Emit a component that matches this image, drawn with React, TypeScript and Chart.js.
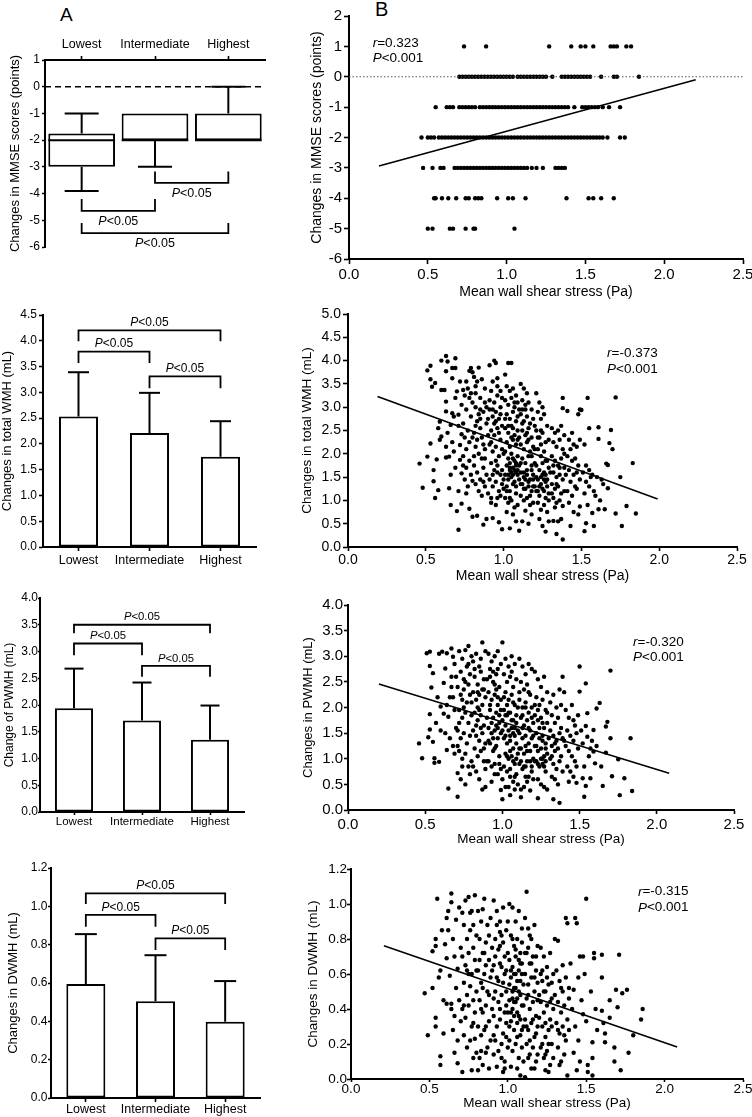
import React, { useEffect, useRef } from "react";
import { Chart, registerables } from "chart.js";
Chart.register(...registerables);

const FONT = '"Liberation Sans", Arial, Helvetica, sans-serif';
Chart.defaults.font.family = FONT;
Chart.defaults.color = "#000";

// ---------- Panel A data ----------
const groups = ["Lowest", "Intermediate", "Highest"];

// MMSE box plot (min, Q1, median, Q3, max)
const mmseMin = [-3.9, -3.0, -2.0];
const mmseQ1 = [-3.0, -2.0, -2.0];
const mmseMedian = [-2.0, -2.0, -2.0];
const mmseQ3 = [-1.75, -1.0, -1.0];
const mmseMax = [-1.0, -1.0, 0.0];
// brackets: [from group, to group, bracket level, leg end]
const mmseBrackets = [
  [1, 2, -3.6, -3.17],
  [0, 1, -4.65, -4.2],
  [0, 2, -5.48, -5.1],
];

const wmhMean = [2.53, 2.21, 1.75];
const wmhSD = [0.86, 0.78, 0.69];
const wmhBrackets = [
  [0, 2, 4.2, 3.99],
  [0, 1, 3.79, 3.57],
  [1, 2, 3.31, 3.08],
];

const pwmhMean = [1.94, 1.71, 1.35];
const pwmhSD = [0.74, 0.71, 0.64];
const pwmhBrackets = [
  [0, 2, 3.5, 3.34],
  [0, 1, 3.15, 2.93],
  [1, 2, 2.73, 2.53],
];

const dwmhMean = [0.595, 0.505, 0.398];
const dwmhSD = [0.26, 0.24, 0.212];
const dwmhBrackets = [
  [0, 2, 1.068, 1.012],
  [0, 1, 0.955, 0.894],
  [1, 2, 0.833, 0.772],
];

// ---------- Panel B data ----------
const mmseLevels = [1, 0, -1, -2, -3, -4, -5];
const mmseRowP1 = [0.73, 0.87, 1.27, 1.41, 1.47, 1.5, 1.55, 1.66, 1.68, 1.7, 1.76, 1.79];
const mmseRow0 = [0.7, 0.72, 0.74, 0.76, 0.78, 0.8, 0.82, 0.84, 0.86, 0.88, 0.9, 0.92, 0.94, 0.96, 0.98, 1.0, 1.02, 1.04, 1.07, 1.09, 1.11, 1.13, 1.15, 1.17, 1.19, 1.21, 1.23, 1.25, 1.29, 1.35, 1.37, 1.39, 1.41, 1.43, 1.45, 1.47, 1.49, 1.51, 1.53, 1.6, 1.68, 1.7, 1.84];
const mmseRowM1 = [0.55, 0.62, 0.64, 0.66, 0.7, 0.72, 0.74, 0.76, 0.78, 0.8, 0.83, 0.85, 0.87, 0.89, 0.91, 0.93, 0.95, 0.97, 0.99, 1.01, 1.03, 1.05, 1.07, 1.09, 1.11, 1.13, 1.15, 1.17, 1.19, 1.21, 1.23, 1.25, 1.27, 1.29, 1.31, 1.33, 1.35, 1.37, 1.39, 1.43, 1.48, 1.5, 1.52, 1.54, 1.56, 1.58, 1.61, 1.65, 1.72];
const mmseRowM2 = [0.46, 0.5, 0.52, 0.54, 0.57, 0.59, 0.61, 0.63, 0.65, 0.67, 0.69, 0.71, 0.73, 0.75, 0.77, 0.79, 0.81, 0.83, 0.85, 0.87, 0.89, 0.91, 0.93, 0.95, 0.97, 0.99, 1.01, 1.03, 1.05, 1.07, 1.09, 1.11, 1.13, 1.15, 1.17, 1.19, 1.21, 1.23, 1.25, 1.27, 1.29, 1.31, 1.33, 1.35, 1.37, 1.39, 1.41, 1.43, 1.45, 1.47, 1.49, 1.51, 1.53, 1.55, 1.57, 1.59, 1.61, 1.64, 1.72, 1.75];
const mmseRowM3 = [0.47, 0.53, 0.58, 0.6, 0.67, 0.69, 0.71, 0.73, 0.75, 0.77, 0.79, 0.81, 0.83, 0.85, 0.87, 0.89, 0.91, 0.93, 0.95, 0.97, 0.99, 1.01, 1.03, 1.05, 1.07, 1.09, 1.11, 1.13, 1.16, 1.19, 1.23, 1.31, 1.33, 1.35, 1.37];
const mmseRowM4 = [0.54, 0.55, 0.59, 0.63, 0.68, 0.74, 0.76, 0.8, 0.82, 0.84, 0.94, 1.01, 1.04, 1.12, 1.38, 1.52, 1.55, 1.6, 1.68];
const mmseRowM5 = [0.5, 0.53, 0.64, 0.66, 0.74, 0.79, 0.8, 1.05];
const mmseRows = [mmseRowP1, mmseRow0, mmseRowM1, mmseRowM2, mmseRowM3, mmseRowM4, mmseRowM5];
const mmseFit = [[0.19, -2.94], [2.2, -0.1]];

const wmhPoints = [
  [0.46,1.79],[0.48,1.27],[0.51,3.79],[0.53,3.89],[0.53,3.6],[0.54,3.44],[0.56,3.52],[0.51,1.94],[0.53,2.22],[0.55,1.65],[0.55,1.41],[0.56,1.05],[0.58,1.22],[0.59,2.69],[0.6,3.37],[0.6,2.37],[0.59,2.3],[0.58,2.55],[0.57,1.88],
  [0.62,3.37],[0.6,4.0],[0.63,4.1],[0.64,3.98],[0.63,3.77],[0.63,3.12],[0.63,2.91],[0.63,1.92],[0.63,2.15],[0.65,1.94],[0.65,1.26],[0.66,0.9],[0.67,2.87],[0.69,4.05],[0.67,3.62],[0.67,3.84],[0.69,3.84],[0.66,2.62],[0.68,2.8],[0.69,3.2],[0.64,2.45],[0.67,2.25],[0.66,1.55],[0.69,1.7],[0.68,2.05],
  [0.7,3.34],[0.71,2.84],[0.7,0.77],[0.71,0.37],[0.72,2.19],[0.72,1.87],[0.73,1.58],[0.73,0.93],[0.74,3.37],[0.72,3.55],[0.73,3.05],[0.75,3.25],[0.74,2.65],[0.76,2.95],[0.77,3.4],[0.78,3.78],[0.79,3.84],[0.8,3.75],[0.77,2.5],[0.75,2.35],[0.76,2.1],[0.78,2.25],[0.74,1.95],[0.76,1.7],[0.78,1.85],[0.75,1.45],[0.77,1.3],[0.79,1.55],[0.8,1.42],[0.76,1.15],[0.78,0.82],[0.8,0.65],[0.79,2.8],[0.8,3.1],[0.71,1.2],[0.73,2.42],[0.71,2.6],[0.74,1.75],
  [0.81,3.65],[0.82,3.3],[0.83,3.55],[0.84,3.85],[0.82,3.0],[0.84,2.85],[0.85,3.2],[0.83,2.7],[0.81,2.45],[0.85,2.55],[0.86,2.35],[0.82,2.15],[0.84,2.0],[0.86,1.9],[0.81,1.75],[0.83,1.6],[0.85,1.45],[0.87,1.7],[0.82,1.35],[0.84,1.2],[0.86,1.1],[0.88,1.3],[0.83,0.67],[0.87,0.48],[0.89,0.6],[0.88,3.4],[0.87,2.9],[0.89,2.65],[0.88,2.1],[0.89,1.55],[0.9,2.4],[0.86,3.6],[0.89,3.0],[0.88,1.9],[0.81,1.95],
  [0.91,3.9],[0.94,4.0],[0.95,3.95],[0.93,3.55],[0.96,3.62],[0.92,3.35],[0.94,3.1],[0.96,3.25],[0.98,3.0],[0.91,2.95],[0.93,2.8],[0.95,2.9],[0.97,2.75],[0.99,2.6],[0.92,2.5],[0.94,2.4],[0.96,2.55],[0.98,2.3],[0.91,2.2],[0.93,2.05],[0.95,2.15],[0.97,1.95],[0.99,2.1],[0.92,1.8],[0.94,1.65],[0.96,1.75],[0.98,1.55],[0.91,1.45],[0.93,1.3],[0.95,1.4],[0.97,1.2],[0.99,1.35],[0.92,1.05],[0.95,0.9],[0.98,1.1],[0.93,0.62],[0.97,0.53],[0.99,0.38],[0.96,3.45],[0.98,2.85],[0.94,2.65],[1.0,2.0],[0.95,1.85],[0.99,1.65],
  [1.01,3.7],[1.03,3.95],[1.05,3.95],[1.02,3.45],[1.04,3.35],[1.06,3.4],[1.08,3.25],[1.01,3.15],[1.03,3.05],[1.05,3.2],[1.07,3.0],[1.09,3.1],[1.02,2.85],[1.04,2.75],[1.06,2.9],[1.08,2.7],[1.01,2.55],[1.03,2.45],[1.05,2.6],[1.07,2.4],[1.09,2.5],[1.02,2.25],[1.04,2.15],[1.06,2.3],[1.08,2.2],[1.1,2.35],[1.01,2.05],[1.03,1.9],[1.05,2.0],[1.07,1.85],[1.09,1.95],[1.02,1.75],[1.04,1.65],[1.06,1.7],[1.08,1.6],[1.1,1.75],[1.01,1.55],[1.03,1.45],[1.05,1.5],[1.07,1.4],[1.09,1.55],[1.02,1.3],[1.04,1.2],[1.06,1.35],[1.08,1.15],[1.01,1.05],[1.03,0.95],[1.05,1.0],[1.07,0.85],[1.09,0.9],[1.02,0.75],[1.06,0.7],[1.04,0.4],[1.08,0.55],[1.1,0.35],[1.06,2.55],[1.04,1.8],[1.08,1.3],[1.09,2.8],
  [1.11,3.5],[1.13,3.4],[1.15,3.3],[1.12,3.15],[1.14,3.05],[1.16,3.1],[1.18,2.95],[1.11,2.85],[1.13,2.7],[1.15,2.8],[1.17,2.65],[1.19,2.75],[1.12,2.5],[1.14,2.4],[1.16,2.55],[1.18,2.35],[1.11,2.2],[1.13,2.1],[1.15,2.25],[1.17,2.05],[1.19,2.15],[1.12,1.9],[1.14,1.8],[1.16,1.95],[1.18,1.75],[1.11,1.6],[1.13,1.5],[1.15,1.65],[1.17,1.45],[1.19,1.55],[1.12,1.35],[1.14,1.25],[1.16,1.4],[1.18,1.2],[1.11,1.1],[1.13,1.0],[1.15,1.05],[1.17,0.9],[1.19,0.95],[1.14,0.78],[1.12,0.55],[1.16,0.5],[1.18,0.7],[1.2,1.3],[1.2,1.8],
  [1.21,3.3],[1.23,3.1],[1.25,3.0],[1.22,2.9],[1.24,2.75],[1.26,2.85],[1.28,2.6],[1.21,2.5],[1.23,2.35],[1.25,2.45],[1.27,2.25],[1.29,2.3],[1.22,2.1],[1.24,1.95],[1.26,2.05],[1.28,1.85],[1.21,1.75],[1.23,1.65],[1.25,1.8],[1.27,1.55],[1.29,1.7],[1.22,1.45],[1.24,1.35],[1.26,1.45],[1.28,1.3],[1.21,1.2],[1.23,1.1],[1.25,1.25],[1.27,1.05],[1.29,1.15],[1.22,0.95],[1.24,0.8],[1.26,0.9],[1.28,0.75],[1.23,0.6],[1.25,0.45],[1.27,0.33],[1.29,0.55],[1.26,1.6],
  [1.31,2.55],[1.33,2.45],[1.35,2.5],[1.37,2.6],[1.39,2.4],[1.32,2.25],[1.34,2.15],[1.36,2.3],[1.38,2.1],[1.31,1.95],[1.33,1.85],[1.35,1.75],[1.37,1.9],[1.39,1.7],[1.32,1.6],[1.34,1.5],[1.36,1.55],[1.38,1.45],[1.31,1.35],[1.33,1.25],[1.35,1.3],[1.37,1.15],[1.39,1.2],[1.32,1.05],[1.34,0.95],[1.36,1.0],[1.38,0.88],[1.33,0.85],[1.35,0.55],[1.37,0.6],[1.38,3.2],[1.38,2.98],[1.34,0.28],[1.38,0.16],[1.32,0.56],[1.39,2.0],
  [1.41,2.92],[1.44,2.45],[1.42,2.3],[1.45,2.2],[1.43,2.1],[1.47,2.15],[1.41,1.95],[1.44,1.85],[1.46,1.9],[1.48,1.75],[1.42,1.65],[1.45,1.55],[1.47,1.6],[1.43,1.4],[1.46,1.3],[1.49,1.45],[1.41,1.2],[1.44,1.1],[1.47,1.25],[1.42,0.95],[1.45,0.75],[1.48,0.7],[1.43,0.45],[1.49,0.87],[1.49,2.3],[1.48,2.85],[1.49,2.95],[1.4,1.55],
  [1.5,2.94],[1.54,3.2],[1.52,2.2],[1.53,1.75],[1.55,2.55],[1.53,1.4],[1.55,1.65],[1.51,1.6],[1.57,1.55],[1.58,1.2],[1.56,1.5],[1.52,1.15],[1.54,0.9],[1.57,0.73],[1.53,0.51],[1.52,0.34],[1.55,1.3],[1.6,1.5],[1.61,2.57],[1.61,2.32],[1.61,0.81],[1.64,1.35],[1.63,1.45],[1.65,0.81],[1.66,1.79],[1.67,1.76],[1.67,1.26],[1.68,2.23],[1.69,2.51],[1.7,2.1],[1.72,3.21],[1.72,0.72],[1.75,1.5],[1.76,0.45],[1.79,0.88],[1.83,1.8],[1.85,0.72],[1.59,1.1],[1.62,1.0],[1.58,0.45],
  [0.76,3.55],[0.79,3.3],[0.82,2.6],[0.85,2.75],[0.87,2.2],[0.9,2.75],[0.92,2.25],[0.93,1.55],[0.96,1.05],[0.97,2.45],[0.99,3.2],[1.0,1.45],[1.01,2.75],[1.02,1.2],[1.03,2.6],[1.04,1.05],[1.05,2.35],[1.06,1.9],[1.07,3.1],[1.08,1.75],[1.09,2.3],[1.1,1.45],[1.1,2.95],[1.11,1.8],[1.12,2.65],[1.13,1.25],[1.14,2.95],[1.15,1.55],[1.16,2.3],[1.17,1.1],[1.18,1.95],[1.19,1.3],[1.2,2.6],[1.21,1.5],[1.22,2.35],[1.23,1.3],[1.24,2.2],[1.25,1.55],[1.26,1.2],[1.27,1.85],[1.28,1.45],[1.29,1.0],[1.3,1.6],[1.31,1.15],[1.32,1.75],[1.34,1.35],[1.36,1.7],[1.04,1.7],[1.06,1.55],[1.07,1.65],[1.08,1.8],[1.05,1.6],[1.09,1.65],[1.03,1.55],[0.95,2.7],[0.93,2.95],[0.91,3.15],[0.98,3.35],[0.88,3.1],[0.85,2.95],[0.82,3.45],[0.78,3.2],[0.8,2.35],[0.83,2.3],[0.87,1.4],[0.9,1.15],[0.92,0.95],[0.96,1.6],[1.0,1.25],[1.13,1.6],[1.16,1.3],[1.19,1.45],[1.22,1.2],[1.24,1.5],[1.27,1.4],[1.18,1.65],[1.14,1.45],[1.11,1.35],[1.24,2.5],[1.2,2.1],[1.15,2.45],[1.12,2.95],
];
const wmhFit = [[0.19, 3.23], [1.99, 1.03]];

const pwmhPoints = [
  [0.46,1.3],[0.48,1.01],[0.51,3.06],[0.53,3.09],[0.53,2.81],[0.55,2.67],[0.54,2.39],[0.53,1.87],[0.53,1.57],[0.56,1.01],[0.56,0.92],[0.59,0.94],[0.55,1.33],[0.52,1.42],[0.6,2.02],[0.6,1.55],[0.58,2.2],[0.57,1.7],[0.59,3.05],
  [0.61,3.09],[0.64,3.06],[0.63,2.76],[0.62,2.48],[0.65,1.82],[0.64,1.17],[0.65,0.42],[0.67,3.15],[0.68,2.99],[0.63,1.5],[0.62,1.88],[0.66,2.2],[0.67,2.6],[0.69,2.85],[0.66,1.4],[0.68,1.25],[0.69,1.95],[0.64,2.05],[0.67,2.4],[0.7,1.6],[0.69,1.1],
  [0.71,0.26],[0.71,0.72],[0.72,3.1],[0.74,2.95],[0.76,3.12],[0.78,3.2],[0.73,2.7],[0.75,2.55],[0.77,2.8],[0.79,2.65],[0.71,2.4],[0.73,2.25],[0.75,2.35],[0.77,2.1],[0.79,2.25],[0.72,1.95],[0.74,1.8],[0.76,1.9],[0.78,1.7],[0.8,1.85],[0.71,1.55],[0.73,1.4],[0.75,1.5],[0.77,1.3],[0.79,1.45],[0.72,1.15],[0.74,1.0],[0.76,1.1],[0.78,0.85],[0.8,0.95],[0.73,0.6],[0.76,0.5],[0.79,0.7],[0.75,2.0],[0.78,2.45],[0.8,3.0],[0.71,1.25],[0.74,0.85],
  [0.81,2.9],[0.83,3.05],[0.85,2.8],[0.87,3.27],[0.89,3.1],[0.82,2.6],[0.84,2.45],[0.86,2.7],[0.88,2.55],[0.81,2.3],[0.83,2.15],[0.85,2.25],[0.87,2.05],[0.89,2.2],[0.82,1.9],[0.84,1.75],[0.86,1.85],[0.88,1.65],[0.81,1.55],[0.83,1.45],[0.85,1.35],[0.87,1.5],[0.89,1.3],[0.82,1.2],[0.84,1.05],[0.86,1.15],[0.88,0.95],[0.81,0.85],[0.83,0.75],[0.85,0.6],[0.87,0.4],[0.89,0.45],[0.86,2.95],[0.88,2.35],[0.9,1.8],[0.84,2.0],[0.89,0.8],
  [0.91,3.05],[0.93,2.9],[0.95,3.0],[0.97,2.75],[0.99,2.85],[0.92,2.6],[0.94,2.5],[0.96,2.65],[0.98,2.4],[0.91,2.3],[0.93,2.15],[0.95,2.25],[0.97,2.05],[0.99,2.15],[0.92,1.95],[0.94,1.8],[0.96,1.9],[0.98,1.7],[0.91,1.6],[0.93,1.5],[0.95,1.55],[0.97,1.4],[0.99,1.5],[0.92,1.3],[0.94,1.15],[0.96,1.25],[0.98,1.05],[0.91,0.95],[0.93,0.85],[0.95,0.9],[0.97,0.7],[0.99,0.8],[0.93,0.55],[0.99,0.39],[0.96,2.35],[0.98,1.85],[0.94,1.4],[0.97,3.1],[0.92,2.75],
  [1.0,3.27],[1.02,2.95],[1.04,2.8],[1.06,3.0],[1.08,2.85],[1.01,2.65],[1.03,2.5],[1.05,2.6],[1.07,2.4],[1.09,2.55],[1.02,2.3],[1.04,2.15],[1.06,2.25],[1.08,2.05],[1.01,1.95],[1.03,1.85],[1.05,1.9],[1.07,1.75],[1.09,1.85],[1.02,1.65],[1.04,1.55],[1.06,1.6],[1.08,1.45],[1.01,1.4],[1.03,1.3],[1.05,1.35],[1.07,1.2],[1.09,1.3],[1.02,1.1],[1.04,1.0],[1.06,1.05],[1.08,0.9],[1.01,0.85],[1.03,0.75],[1.05,0.65],[1.07,0.55],[1.09,0.7],[1.0,0.21],[1.05,0.29],[1.04,0.45],[1.08,0.4],[1.06,2.7],[1.1,2.0],[1.03,2.05],[1.07,1.5],[1.1,1.1],
  [1.11,2.95],[1.13,2.8],[1.15,2.65],[1.17,2.85],[1.19,2.75],[1.12,2.5],[1.14,2.35],[1.16,2.45],[1.18,2.25],[1.11,2.15],[1.13,2.0],[1.15,2.1],[1.17,1.9],[1.19,2.0],[1.12,1.8],[1.14,1.65],[1.16,1.75],[1.18,1.55],[1.11,1.5],[1.13,1.4],[1.15,1.45],[1.17,1.3],[1.19,1.4],[1.12,1.2],[1.14,1.1],[1.16,1.15],[1.18,0.95],[1.11,0.9],[1.13,0.8],[1.15,0.85],[1.17,0.65],[1.19,0.75],[1.12,0.25],[1.14,0.45],[1.16,0.55],[1.18,0.38],[1.2,1.0],[1.2,1.7],
  [1.21,2.7],[1.23,2.55],[1.25,2.4],[1.27,2.6],[1.29,2.3],[1.22,2.2],[1.24,2.05],[1.26,2.15],[1.28,1.95],[1.21,1.85],[1.23,1.75],[1.25,1.8],[1.27,1.6],[1.29,1.7],[1.22,1.5],[1.24,1.4],[1.26,1.45],[1.28,1.3],[1.21,1.25],[1.23,1.15],[1.25,1.2],[1.27,1.05],[1.29,1.1],[1.22,0.95],[1.24,0.85],[1.26,0.9],[1.28,0.75],[1.23,0.6],[1.25,0.5],[1.27,0.45],[1.23,0.23],[1.29,0.4],[1.26,1.0],[1.28,0.95],
  [1.31,2.1],[1.33,2.25],[1.35,2.0],[1.37,2.35],[1.39,2.6],[1.32,1.85],[1.34,1.7],[1.36,1.8],[1.38,1.6],[1.31,1.55],[1.33,1.45],[1.35,1.35],[1.37,1.5],[1.39,1.4],[1.32,1.25],[1.34,1.15],[1.36,1.2],[1.38,1.05],[1.31,1.0],[1.33,0.9],[1.35,0.8],[1.37,0.95],[1.39,0.75],[1.32,0.65],[1.34,0.6],[1.36,0.5],[1.33,0.21],[1.37,0.14],[1.38,2.05],[1.4,2.3],
  [1.41,1.95],[1.43,1.8],[1.45,2.05],[1.47,1.65],[1.42,1.55],[1.44,1.45],[1.46,1.35],[1.48,1.5],[1.41,1.25],[1.43,1.15],[1.45,1.05],[1.47,0.95],[1.49,1.2],[1.42,0.85],[1.44,0.75],[1.46,0.65],[1.48,0.85],[1.43,0.55],[1.48,0.53],[1.5,2.8],[1.5,2.31],[1.49,1.85],[1.46,1.75],[1.4,1.35],
  [1.54,2.47],[1.7,2.72],[1.63,2.09],[1.68,1.72],[1.67,1.63],[1.7,1.4],[1.83,1.4],[1.61,1.98],[1.59,1.56],[1.55,1.89],[1.54,1.64],[1.55,1.43],[1.57,1.2],[1.59,1.14],[1.61,1.25],[1.6,0.91],[1.64,0.85],[1.67,1.12],[1.71,0.66],[1.75,0.99],[1.79,0.62],[1.76,0.29],[1.84,0.37],[1.65,0.47],[1.53,0.26],[1.52,0.62],[1.54,0.47],[1.57,0.62],[1.52,1.3],[1.56,1.05],[1.53,0.85],[1.51,1.55],[1.58,1.35],
  [0.82,2.75],[0.84,2.3],[0.86,1.6],[0.88,1.2],[0.9,2.55],[0.91,1.35],[0.92,2.05],[0.94,2.7],[0.95,1.2],[0.96,1.65],[0.97,2.2],[0.98,0.9],[0.99,1.95],[1.0,1.55],[1.01,2.2],[1.02,1.45],[1.03,1.05],[1.04,1.9],[1.05,1.15],[1.06,1.75],[1.07,0.95],[1.08,1.6],[1.09,1.0],[1.1,1.55],[1.11,1.2],[1.12,0.95],[1.13,1.6],[1.14,0.85],[1.15,1.25],[1.16,0.95],[1.17,1.6],[1.18,1.15],[1.19,0.85],[1.2,1.45],[1.21,0.95],[1.22,1.25],[1.23,0.9],[1.24,1.6],[1.25,1.0],[1.26,1.35],[1.27,0.85],[1.28,1.2],[1.3,1.4],[1.32,1.05],[1.34,1.3],[0.93,1.7],[0.95,2.45],[0.97,1.6],[1.0,1.75],[1.02,1.85],[1.05,1.45],[1.07,2.1],[1.09,1.7],[1.11,2.3],[1.13,1.85],[1.15,2.0],[1.17,2.3],[1.19,1.8],[1.21,2.05],[1.23,1.95],[1.26,1.7],[1.29,1.9],[0.87,2.35],[0.85,1.95],[0.83,1.65],[0.8,2.1],[0.78,2.85],[0.76,2.5],[0.74,2.15],[0.72,1.7],[0.7,2.6],[0.68,2.2],[1.0,0.6],[1.05,0.8],[1.1,0.5],[1.15,0.65],[1.2,0.6],[0.95,0.7],[0.9,0.95],[1.02,0.45],[1.08,0.65],[1.12,0.4],
];
const pwmhFit = [[0.2, 2.46], [2.08, 0.715]];

const dwmhPoints = [
  [0.47,0.49],[0.49,0.25],[0.52,0.73],[0.52,0.52],[0.54,0.8],[0.54,0.76],[0.55,1.03],[0.54,0.35],[0.54,0.3],[0.57,0.62],[0.57,0.13],[0.57,0.08],[0.59,0.26],[0.6,0.77],[0.58,0.85],[0.59,0.45],[0.56,0.58],
  [0.61,0.69],[0.61,0.43],[0.61,0.92],[0.62,0.96],[0.64,1.06],[0.64,1.01],[0.63,0.59],[0.64,0.43],[0.64,0.4],[0.66,0.36],[0.67,0.91],[0.68,0.09],[0.65,0.8],[0.66,0.7],[0.68,0.63],[0.67,0.52],[0.69,0.45],[0.65,0.28],[0.68,0.22],[0.7,0.33],[0.69,0.98],[0.62,0.85],[0.7,0.75],[0.66,0.15],
  [0.71,0.95],[0.73,1.02],[0.75,1.04],[0.77,0.96],[0.79,1.05],[0.72,0.88],[0.74,0.8],[0.76,0.85],[0.78,0.75],[0.8,0.82],[0.71,0.7],[0.73,0.65],[0.75,0.72],[0.77,0.6],[0.79,0.68],[0.72,0.55],[0.74,0.48],[0.76,0.53],[0.78,0.45],[0.8,0.5],[0.71,0.4],[0.73,0.35],[0.75,0.42],[0.77,0.3],[0.79,0.38],[0.72,0.25],[0.74,0.18],[0.76,0.22],[0.78,0.12],[0.8,0.15],[0.71,0.04],[0.77,0.05],[0.79,0.23],[0.75,0.6],
  [0.81,0.96],[0.83,0.9],[0.85,1.03],[0.87,0.88],[0.89,0.92],[0.82,0.8],[0.84,0.72],[0.86,0.78],[0.88,0.68],[0.81,0.62],[0.83,0.55],[0.85,0.6],[0.87,0.5],[0.89,0.58],[0.82,0.45],[0.84,0.38],[0.86,0.42],[0.88,0.33],[0.81,0.3],[0.83,0.25],[0.85,0.28],[0.87,0.18],[0.89,0.22],[0.82,0.12],[0.84,0.08],[0.86,0.15],[0.88,0.06],[0.81,0.05],[0.9,0.75],[0.9,0.4],[0.86,0.65],[0.84,0.97],
  [0.91,1.02],[0.93,0.96],[0.95,0.9],[0.97,0.98],[0.99,0.85],[0.92,0.8],[0.94,0.74],[0.96,0.82],[0.98,0.7],[0.91,0.65],[0.93,0.58],[0.95,0.66],[0.97,0.55],[0.99,0.62],[0.92,0.5],[0.94,0.44],[0.96,0.48],[0.98,0.38],[0.91,0.36],[0.93,0.3],[0.95,0.34],[0.97,0.26],[0.99,0.32],[0.92,0.22],[0.94,0.16],[0.96,0.2],[0.98,0.1],[0.93,0.07],[0.97,0.04],[1.0,0.18],[0.95,0.76],[0.99,0.5],[0.91,0.46],
  [1.01,1.0],[1.03,0.98],[1.05,0.9],[1.07,0.96],[1.09,0.86],[1.02,0.82],[1.04,0.76],[1.06,0.8],[1.08,0.72],[1.01,0.68],[1.03,0.64],[1.05,0.7],[1.07,0.62],[1.09,0.66],[1.02,0.58],[1.04,0.52],[1.06,0.56],[1.08,0.48],[1.1,0.54],[1.01,0.45],[1.03,0.4],[1.05,0.44],[1.07,0.36],[1.09,0.42],[1.02,0.33],[1.04,0.28],[1.06,0.32],[1.08,0.25],[1.1,0.3],[1.01,0.22],[1.03,0.16],[1.05,0.2],[1.07,0.12],[1.09,0.18],[1.02,0.07],[1.06,0.06],[1.08,0.02],[1.04,0.6],[1.06,0.38],[1.08,0.66],[1.05,0.74],[1.03,0.5],
  [1.12,1.07],[1.11,0.92],[1.13,0.86],[1.15,0.8],[1.17,0.88],[1.19,0.76],[1.12,0.72],[1.14,0.66],[1.16,0.7],[1.18,0.62],[1.11,0.6],[1.13,0.54],[1.15,0.58],[1.17,0.5],[1.19,0.55],[1.12,0.46],[1.14,0.4],[1.16,0.44],[1.18,0.36],[1.11,0.34],[1.13,0.28],[1.15,0.32],[1.17,0.24],[1.19,0.3],[1.12,0.2],[1.14,0.14],[1.16,0.18],[1.18,0.1],[1.11,0.01],[1.15,0.06],[1.19,0.14],[1.2,0.48],[1.13,0.75],
  [1.21,0.75],[1.23,0.7],[1.25,0.64],[1.27,0.72],[1.29,0.6],[1.22,0.56],[1.24,0.5],[1.26,0.54],[1.28,0.46],[1.21,0.44],[1.23,0.38],[1.25,0.42],[1.27,0.34],[1.29,0.4],[1.22,0.3],[1.24,0.24],[1.26,0.28],[1.28,0.2],[1.21,0.18],[1.23,0.12],[1.25,0.16],[1.27,0.08],[1.29,0.12],[1.24,0.05],[1.26,0.04],[1.3,0.8],[1.28,0.55],[1.22,0.62],
  [1.32,0.79],[1.37,0.92],[1.38,0.89],[1.31,0.62],[1.33,0.56],[1.35,0.5],[1.37,0.58],[1.39,0.46],[1.32,0.44],[1.34,0.38],[1.36,0.42],[1.38,0.34],[1.31,0.32],[1.33,0.26],[1.35,0.3],[1.37,0.22],[1.39,0.28],[1.32,0.18],[1.34,0.1],[1.36,0.14],[1.38,0.02],[1.35,0.65],[1.39,0.52],[1.33,0.08],
  [1.43,0.92],[1.44,0.89],[1.46,0.7],[1.48,0.7],[1.45,0.58],[1.42,0.51],[1.41,0.4],[1.43,0.3],[1.45,0.22],[1.47,0.45],[1.42,0.15],[1.44,0.05],[1.48,0.37],[1.5,0.33],[1.5,1.03],[1.51,0.08],[1.51,0.04],[1.49,0.6],[1.46,0.1],[1.4,0.66],
  [1.55,0.72],[1.55,0.69],[1.57,0.28],[1.54,0.21],[1.54,0.12],[1.54,0.02],[1.53,0.5],[1.56,0.4],[1.6,0.71],[1.6,0.58],[1.6,0.39],[1.61,0.32],[1.62,0.21],[1.62,0.26],[1.65,0.45],[1.65,0.35],[1.68,0.18],[1.68,0.1],[1.69,0.51],[1.7,0.41],[1.71,0.71],[1.72,0.05],[1.73,0.49],[1.76,0.51],[1.77,0.15],[1.8,0.25],[1.85,0.34],[1.86,0.4],
  [0.82,0.68],[0.84,0.52],[0.86,0.3],[0.88,0.82],[0.9,0.62],[0.91,0.25],[0.92,0.7],[0.94,0.56],[0.95,0.4],[0.96,0.12],[0.97,0.78],[0.98,0.6],[0.99,0.24],[1.0,0.72],[1.01,0.54],[1.02,0.38],[1.03,0.8],[1.04,0.44],[1.05,0.6],[1.06,0.24],[1.07,0.5],[1.08,0.34],[1.09,0.6],[1.1,0.42],[1.11,0.72],[1.12,0.3],[1.13,0.48],[1.14,0.22],[1.15,0.66],[1.16,0.34],[1.17,0.58],[1.18,0.26],[1.19,0.45],[1.2,0.35],[1.21,0.6],[1.22,0.2],[1.23,0.5],[1.24,0.32],[1.25,0.58],[1.26,0.2],[1.27,0.44],[1.28,0.3],[1.3,0.48],[1.32,0.28],[1.34,0.52],[1.36,0.25],[0.93,0.88],[0.96,0.64],[0.99,0.42],[1.02,0.62],[1.04,0.36],[1.06,0.46],[1.07,0.68],[1.05,0.52],[1.03,0.46],[1.0,0.38],[1.01,0.3],[1.08,0.56],[1.09,0.28],[0.88,0.48],[0.85,0.72],[0.83,0.4],[0.8,0.62],[0.78,0.88],[0.76,0.95],[0.74,0.62],[0.72,0.42],[0.78,0.32],[0.83,0.16],[0.91,0.14],[0.98,0.06],[1.1,0.1],[1.17,0.06],[1.24,0.14],[1.13,0.12],[0.95,0.84],[1.0,0.9],[1.09,0.78],[1.14,0.82],[1.18,0.7],
];
const dwmhFit = [[0.21, 0.762], [2.08, 0.183]];

// ---------- helpers ----------
type Box = { left: number; top: number; width: number; height: number };
type Area = { x1: number; y1: number; x2: number; y2: number };

function frame(box: Box, area: Area, xPos: "top" | "bottom") {
  const xh = xPos === "top" ? area.y1 - box.top : box.top + box.height - area.y2;
  const zero = (s: any) => {
    s.paddingTop = 0; s.paddingBottom = 0; s.paddingLeft = 0; s.paddingRight = 0;
  };
  return {
    padding: {
      left: 0,
      right: box.left + box.width - area.x2,
      top: xPos === "top" ? 0 : area.y1 - box.top,
      bottom: xPos === "top" ? box.top + box.height - area.y2 : 0,
    },
    yFit: (s: any) => { s.width = area.x1 - box.left; zero(s); },
    xFit: (s: any) => { s.height = xh; zero(s); },
  };
}

function axisStyle(tl: number) {
  return {
    border: { display: true, color: "#000", width: 2 },
    grid: {
      display: true, drawOnChartArea: false, drawTicks: true, tickLength: tl,
      tickWidth: 1.6, tickColor: "#000", color: "#000", offset: false,
    },
  };
}

function yScale(o: any) {
  return {
    type: "linear", position: "left", min: o.min, max: o.max,
    ...axisStyle(o.tl),
    ticks: {
      stepSize: o.step, autoSkip: false, color: "#000",
      font: { size: o.tickSize, family: FONT },
      padding: o.area.x1 - o.tl - o.labelRight,
      callback: (v: any) => Number(v).toFixed(o.dec),
    },
    title: {
      display: true, text: o.title, color: "#000",
      font: { size: o.titleSize, family: FONT },
      padding: { top: o.titleX - o.box.left - o.titleSize * 0.6, bottom: 0 },
    },
    afterFit: o.fit,
  };
}

function seg(ctx: CanvasRenderingContext2D, x1: number, y1: number, x2: number, y2: number) {
  ctx.beginPath(); ctx.moveTo(x1, y1); ctx.lineTo(x2, y2); ctx.stroke();
}

function drawItalicLead(ctx: CanvasRenderingContext2D, lead: string, rest: string, x: number, y: number, size: number, center: boolean) {
  ctx.font = `italic ${size}px ${FONT}`;
  const w1 = ctx.measureText(lead).width;
  ctx.font = `${size}px ${FONT}`;
  const w2 = ctx.measureText(rest).width;
  const sx = center ? x - (w1 + w2) / 2 : x;
  ctx.textAlign = "left";
  ctx.textBaseline = "middle";
  ctx.font = `italic ${size}px ${FONT}`;
  ctx.fillText(lead, sx, y);
  ctx.font = `${size}px ${FONT}`;
  ctx.fillText(rest, sx + w1, y);
}

function drawBrackets(chart: any, brackets: number[][], below: boolean, pSize: number, lw: number, off: number) {
  const { ctx } = chart;
  const xs = chart.scales.x, ys = chart.scales.y;
  ctx.save();
  ctx.strokeStyle = "#000"; ctx.fillStyle = "#000"; ctx.lineWidth = lw;
  brackets.forEach(([f, t, lvl, leg]) => {
    const x1 = xs.getPixelForValue(f), x2 = xs.getPixelForValue(t);
    const Y = ys.getPixelForValue(lvl), L = ys.getPixelForValue(leg);
    ctx.beginPath();
    ctx.moveTo(x1, L); ctx.lineTo(x1, Y); ctx.lineTo(x2, Y); ctx.lineTo(x2, L);
    ctx.stroke();
    drawItalicLead(ctx, "P", "<0.05", (x1 + x2) / 2, below ? Y + off : Y - off, pSize, true);
  });
  ctx.restore();
}

function baseOptions(padding: any) {
  return {
    responsive: false, animation: false, devicePixelRatio: 1, events: [],
    layout: { padding },
    plugins: { legend: { display: false }, tooltip: { enabled: false }, title: { display: false } },
  };
}

// ---------- config builders ----------
function boxConfig() {
  const box = { left: 0, top: 25, width: 272, height: 240 };
  const area = { x1: 45, y1: 60, x2: 265, y2: 247 };
  const fr = frame(box, area, "top");
  const xTick = 12.5, xTl = 4, xLabelY = 45;
  return {
    type: "bar",
    data: {
      labels: groups,
      datasets: [{
        data: mmseQ1.map((q, i) => [q, mmseQ3[i]]),
        backgroundColor: "#fff", borderColor: "#000", borderWidth: 2,
        borderSkipped: false, barPercentage: 0.91, categoryPercentage: 1,
      }],
    },
    options: {
      ...baseOptions(fr.padding),
      scales: {
        x: {
          type: "category", position: "top", offset: true, ...axisStyle(xTl),
          ticks: {
            color: "#000", font: { size: xTick, family: FONT }, autoSkip: false, maxRotation: 0,
            padding: area.y1 - xLabelY - xTl - xTick * 0.6,
          },
          afterFit: fr.xFit,
        },
        y: yScale({
          min: -6, max: 1, step: 1, dec: 0, tl: 3, tickSize: 12, labelRight: 40,
          title: "Changes in MMSE scores (points)", titleSize: 13, titleX: 15, box, area, fit: fr.yFit,
        }),
      },
    },
    plugins: [{
      id: "boxDecor",
      beforeDatasetsDraw(chart: any) {
        const { ctx, chartArea } = chart;
        const y0 = chart.scales.y.getPixelForValue(0);
        ctx.save();
        ctx.strokeStyle = "#000"; ctx.lineWidth = 1.6; ctx.setLineDash([6, 4]);
        seg(ctx, chartArea.left, y0, chartArea.right, y0);
        ctx.restore();
      },
      afterDatasetsDraw(chart: any) {
        const { ctx } = chart;
        const xs = chart.scales.x, ys = chart.scales.y;
        const meta = chart.getDatasetMeta(0);
        const cap = 34;
        ctx.save();
        ctx.strokeStyle = "#000"; ctx.lineWidth = 2;
        groups.forEach((_, i) => {
          const cx = xs.getPixelForValue(i);
          const bw = meta.data[i].width;
          const pMin = ys.getPixelForValue(mmseMin[i]), pQ1 = ys.getPixelForValue(mmseQ1[i]);
          const pQ3 = ys.getPixelForValue(mmseQ3[i]), pMax = ys.getPixelForValue(mmseMax[i]);
          const pMed = ys.getPixelForValue(mmseMedian[i]);
          if (mmseMin[i] < mmseQ1[i]) { seg(ctx, cx, pQ1, cx, pMin); seg(ctx, cx - cap / 2, pMin, cx + cap / 2, pMin); }
          if (mmseMax[i] > mmseQ3[i]) { seg(ctx, cx, pQ3, cx, pMax); seg(ctx, cx - cap / 2, pMax, cx + cap / 2, pMax); }
          seg(ctx, cx - bw / 2, pMed, cx + bw / 2, pMed);
        });
        ctx.restore();
        drawBrackets(chart, mmseBrackets, true, 12.5, 1.8, 10.5);
      },
    }],
  };
}

function barConfig(o: any) {
  const fr = frame(o.box, o.area, "bottom");
  return {
    type: "bar",
    data: {
      labels: groups,
      datasets: [{
        data: o.mean, backgroundColor: "#fff", borderColor: "#000", borderWidth: 2,
        borderSkipped: false, barPercentage: o.barPct, categoryPercentage: 1,
      }],
    },
    options: {
      ...baseOptions(fr.padding),
      scales: {
        x: {
          type: "category", position: "bottom", offset: true, ...axisStyle(o.xTl),
          ticks: {
            color: "#000", font: { size: o.xTick, family: FONT }, autoSkip: false, maxRotation: 0,
            padding: o.xLabelY - o.area.y2 - o.xTl - o.xTick * 0.6,
          },
          afterFit: fr.xFit,
        },
        y: yScale({ ...o.y, box: o.box, area: o.area, fit: fr.yFit }),
      },
    },
    plugins: [{
      id: "barDecor",
      afterDatasetsDraw(chart: any) {
        const { ctx } = chart;
        const xs = chart.scales.x, ys = chart.scales.y;
        ctx.save();
        ctx.strokeStyle = "#000"; ctx.lineWidth = 2;
        o.mean.forEach((m: number, i: number) => {
          const cx = xs.getPixelForValue(i);
          const a = ys.getPixelForValue(m), b = ys.getPixelForValue(m + o.sd[i]);
          seg(ctx, cx, a, cx, b);
          seg(ctx, cx - o.cap / 2, b, cx + o.cap / 2, b);
        });
        ctx.restore();
        drawBrackets(chart, o.brackets, false, o.pSize, 1.8, o.pOff);
      },
    }],
  };
}

function scatterConfig(o: any) {
  const fr = frame(o.box, o.area, "bottom");
  const datasets: any[] = [];
  if (o.zeroLine) {
    datasets.push({
      type: "line", data: [{ x: 0, y: 0 }, { x: 2.5, y: 0 }], borderColor: "#555",
      borderWidth: 1, borderDash: [1.5, 2], pointRadius: 0, fill: false,
    });
  }
  datasets.push({
    type: "scatter", data: o.points.map(([x, y]: number[]) => ({ x, y })),
    pointRadius: 2.2, pointBackgroundColor: "#000", pointBorderWidth: 0, pointBorderColor: "#000", clip: false,
  });
  datasets.push({
    type: "line", data: o.fit.map(([x, y]: number[]) => ({ x, y })), borderColor: "#000",
    borderWidth: 1.6, pointRadius: 0, fill: false, clip: false,
  });
  return {
    type: "scatter",
    data: { datasets },
    options: {
      ...baseOptions(fr.padding),
      scales: {
        x: {
          type: "linear", position: "bottom", min: 0, max: 2.5, ...axisStyle(o.xTl),
          ticks: {
            stepSize: 0.5, autoSkip: false, maxRotation: 0, color: "#000",
            font: { size: o.xTick, family: FONT },
            padding: o.xLabelY - o.area.y2 - o.xTl - o.xTick * 0.6,
            callback: (v: any) => Number(v).toFixed(1),
          },
          title: {
            display: true, text: "Mean wall shear stress (Pa)", color: "#000",
            font: { size: o.xTitleSize, family: FONT },
            padding: { top: 0, bottom: o.box.top + o.box.height - o.xTitleY - o.xTitleSize * 0.6 },
          },
          afterFit: fr.xFit,
        },
        y: yScale({ ...o.y, box: o.box, area: o.area, fit: fr.yFit }),
      },
    },
    plugins: [{
      id: "stat",
      afterDatasetsDraw(chart: any) {
        const { ctx } = chart;
        const px = chart.scales.x.getPixelForValue(o.stat.x);
        const py = chart.scales.y.getPixelForValue(o.stat.y);
        ctx.save();
        ctx.fillStyle = "#000";
        o.stat.lines.forEach(([lead, rest]: string[], k: number) => {
          drawItalicLead(ctx, lead, rest, px, py + k * o.stat.gap, o.stat.size, false);
        });
        ctx.restore();
      },
    }],
  };
}

// ---------- component ----------
function PanelChart({ box, make }: { box: Box; make: () => any }) {
  const ref = useRef<HTMLCanvasElement>(null);
  useEffect(() => {
    const chart = new Chart(ref.current as HTMLCanvasElement, make());
    return () => chart.destroy();
  }, []);
  return (
    <canvas
      ref={ref}
      width={box.width}
      height={box.height}
      style={{ position: "absolute", left: box.left, top: box.top, width: box.width, height: box.height }}
    />
  );
}

const boxA1 = { left: 0, top: 25, width: 272, height: 240 };
const boxA2 = { left: 0, top: 295, width: 262, height: 280 };
const boxA3 = { left: 0, top: 580, width: 252, height: 255 };
const boxA4 = { left: 0, top: 850, width: 268, height: 267 };
const boxB1 = { left: 300, top: 0, width: 452, height: 300 };
const boxB2 = { left: 300, top: 300, width: 452, height: 290 };
const boxB3 = { left: 300, top: 590, width: 452, height: 260 };
const boxB4 = { left: 300, top: 855, width: 452, height: 262 };

const mmsePoints = mmseRows.flatMap((row, k) => row.map((x) => [x, mmseLevels[k]]));

export default function App() {
  return (
    <div style={{ position: "absolute", left: 0, top: 0, width: 752, height: 1117, background: "#fff", overflow: "hidden" }}>
      <div style={{ position: "absolute", left: 60, top: 5, font: `19px ${FONT}`, lineHeight: "20px" }}>A</div>
      <div style={{ position: "absolute", left: 375, top: -1, font: `20px ${FONT}`, lineHeight: "20px" }}>B</div>

      <PanelChart box={boxA1} make={() => boxConfig()} />
      <PanelChart
        box={boxA2}
        make={() => barConfig({
          box: boxA2, area: { x1: 43, y1: 315, x2: 256, y2: 547 },
          mean: wmhMean, sd: wmhSD, brackets: wmhBrackets, barPct: 0.55, cap: 21, pSize: 12, pOff: 8,
          xTick: 12.5, xTl: 4, xLabelY: 561,
          y: { min: 0, max: 4.5, step: 0.5, dec: 1, tl: 4, tickSize: 12, labelRight: 37, title: "Changes in total WMH (mL)", titleSize: 13, titleX: 7 },
        })}
      />
      <PanelChart
        box={boxA3}
        make={() => barConfig({
          box: boxA3, area: { x1: 40, y1: 598, x2: 244, y2: 812 },
          mean: pwmhMean, sd: pwmhSD, brackets: pwmhBrackets, barPct: 0.56, cap: 19, pSize: 11.3, pOff: 7.5,
          xTick: 11.5, xTl: 3, xLabelY: 822,
          y: { min: 0, max: 4, step: 0.5, dec: 1, tl: 2, tickSize: 12, labelRight: 38, title: "Change of PWMH (mL)", titleSize: 12, titleX: 10 },
        })}
      />
      <PanelChart
        box={boxA4}
        make={() => barConfig({
          box: boxA4, area: { x1: 51, y1: 868, x2: 260, y2: 1098 },
          mean: dwmhMean, sd: dwmhSD, brackets: dwmhBrackets, barPct: 0.56, cap: 22, pSize: 12, pOff: 7.5,
          xTick: 12.5, xTl: 4, xLabelY: 1110,
          y: { min: 0, max: 1.2, step: 0.2, dec: 1, tl: 3, tickSize: 12, labelRight: 47.5, title: "Changes in DWMH (mL)", titleSize: 13, titleX: 13 },
        })}
      />

      <PanelChart
        box={boxB1}
        make={() => scatterConfig({
          box: boxB1, area: { x1: 349, y1: 16, x2: 743, y2: 259 },
          points: mmsePoints, fit: mmseFit, zeroLine: true,
          xTick: 15, xTl: 5, xLabelY: 275, xTitleSize: 14, xTitleY: 292,
          y: { min: -6, max: 2, step: 1, dec: 0, tl: 5, tickSize: 15, labelRight: 342, title: "Changes in MMSE scores (points)", titleSize: 14, titleX: 317.5 },
          stat: { x: 0.15, y: 1.11, gap: 15.5, size: 13.5, lines: [["r", "=0.323"], ["P", "<0.001"]] },
        })}
      />
      <PanelChart
        box={boxB2}
        make={() => scatterConfig({
          box: boxB2, area: { x1: 348, y1: 314, x2: 737, y2: 547 },
          points: wmhPoints, fit: wmhFit, zeroLine: false,
          xTick: 14, xTl: 4, xLabelY: 560, xTitleSize: 14, xTitleY: 576,
          y: { min: 0, max: 5, step: 0.5, dec: 1, tl: 5, tickSize: 14, labelRight: 341, title: "Changes in total WMH (mL)", titleSize: 13.5, titleX: 307 },
          stat: { x: 1.665, y: 4.16, gap: 16, size: 13.5, lines: [["r", "=-0.373"], ["P", "<0.001"]] },
        })}
      />
      <PanelChart
        box={boxB3}
        make={() => scatterConfig({
          box: boxB3, area: { x1: 348, y1: 605, x2: 734, y2: 810 },
          points: pwmhPoints, fit: pwmhFit, zeroLine: false,
          xTick: 15, xTl: 4, xLabelY: 825, xTitleSize: 13.5, xTitleY: 839,
          y: { min: 0, max: 4, step: 0.5, dec: 1, tl: 4, tickSize: 15, labelRight: 343, title: "Changes in PWMH (mL)", titleSize: 13, titleX: 308 },
          stat: { x: 1.846, y: 3.28, gap: 15.5, size: 13.5, lines: [["r", "=-0.320"], ["P", "<0.001"]] },
        })}
      />
      <PanelChart
        box={boxB4}
        make={() => scatterConfig({
          box: boxB4, area: { x1: 351, y1: 869, x2: 743, y2: 1079 },
          points: dwmhPoints, fit: dwmhFit, zeroLine: false,
          xTick: 13.5, xTl: 3, xLabelY: 1089, xTitleSize: 13.5, xTitleY: 1103,
          y: { min: 0, max: 1.2, step: 0.2, dec: 1, tl: 4, tickSize: 13.5, labelRight: 347, title: "Changes in DWMH (mL)", titleSize: 13.5, titleX: 313 },
          stat: { x: 1.83, y: 1.07, gap: 16, size: 13.5, lines: [["r", "=-0.315"], ["P", "<0.001"]] },
        })}
      />
    </div>
  );
}
